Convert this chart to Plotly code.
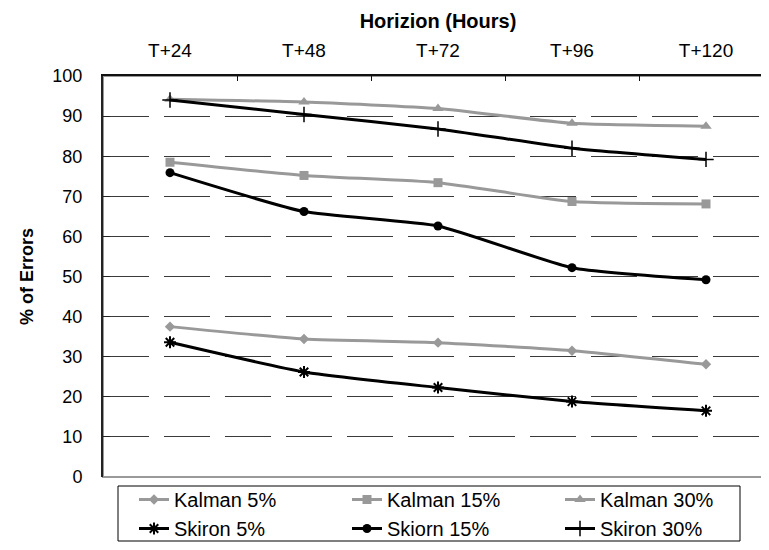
import plotly.graph_objects as go

horizons = ["T+24", "T+48", "T+72", "T+96", "T+120"]
kalman_5 = [37.5, 34.4, 33.5, 31.5, 28.1]
kalman_15 = [78.5, 75.2, 73.4, 68.7, 68.1]
kalman_30 = [94.2, 93.5, 91.9, 88.2, 87.5]
skiron_5 = [33.6, 26.2, 22.3, 18.8, 16.5]
skiorn_15 = [75.9, 66.2, 62.6, 52.2, 49.2]
skiron_30 = [94.0, 90.4, 86.8, 82.0, 79.2]
y_ticks = [0, 10, 20, 30, 40, 50, 60, 70, 80, 90, 100]

GRAY = "#999999"
BLACK = "#000000"
FONT = "Liberation Sans, Arial, sans-serif"

series = [
    ("Kalman 5%", kalman_5, GRAY, "diamond", 8, {}),
    ("Kalman 15%", kalman_15, GRAY, "square", 9, {}),
    ("Kalman 30%", kalman_30, GRAY, "triangle-up", 10, {}),
    ("Skiron 5%", skiron_5, BLACK, "asterisk-open", 10, {"line": {"width": 2, "color": BLACK}}),
    ("Skiorn 15%", skiorn_15, BLACK, "circle", 9, {}),
    ("Skiron 30%", skiron_30, BLACK, "cross-thin-open", 11, {"line": {"width": 1.5, "color": BLACK}}),
]

fig = go.Figure()
for name, vals, color, sym, size, extra in series:
    marker = dict(symbol=sym, size=size, color=color)
    marker.update(extra)
    fig.add_trace(go.Scatter(
        x=horizons, y=vals, name=name, mode="lines+markers",
        line=dict(color=color, width=3, shape="spline", smoothing=0.5),
        marker=marker,
    ))

W, H = 769, 550
L, R, T, B = 95, 4, 68, 81
pw = W - L - R
ph = H - T - B

def px_x(p):
    return (p - L) / pw

def px_y(p):
    return (H - B - p) / ph

fig.update_layout(
    width=W, height=H,
    margin=dict(l=L, r=R, t=T, b=B, autoexpand=False),
    paper_bgcolor="white", plot_bgcolor="white",
    font=dict(family=FONT, size=18, color="black"),
    xaxis=dict(
        type="category", side="top", range=[-0.5, len(horizons) - 0.5],
        showline=True, linecolor="#111111", linewidth=2,
        ticks="inside", ticklen=5, tickcolor="#111111", tickson="boundaries",
        showgrid=False, zeroline=False,
        tickfont=dict(size=19), ticklabelstandoff=9,
        title=dict(text="<b>Horizion (Hours)</b>", font=dict(size=20), standoff=6),
        automargin=False,
    ),
    yaxis=dict(
        range=[0, 100], tickvals=y_ticks,
        showline=True, linecolor="#222222", linewidth=2,
        ticks="inside", ticklen=7, tickcolor="#222222",
        showgrid=True, gridcolor="#3a3a3a", gridwidth=1, griddash="46px,15px",
        zeroline=False,
        tickfont=dict(size=18), ticklabelstandoff=15,
        title=dict(text="<b>% of Errors</b>", font=dict(size=18), standoff=14),
        automargin=False,
    ),
    legend=dict(
        orientation="h", x=px_x(126), xanchor="left", y=px_y(472), yanchor="top",
        entrywidth=168, entrywidthmode="pixels",
        font=dict(size=20), bgcolor="rgba(0,0,0,0)", borderwidth=0,
        tracegroupgap=0, traceorder="normal",
    ),
    showlegend=True,
    shapes=[
        dict(type="rect", xref="paper", yref="paper", x0=0, x1=1, y0=0, y1=1,
             line=dict(color=GRAY, width=2), layer="below"),
        dict(type="rect", xref="paper", yref="paper",
             x0=px_x(110), x1=px_x(732), y0=px_y(533), y1=px_y(478),
             line=dict(color="black", width=1), layer="above"),
    ],
)

fig.write_html("out.html")
